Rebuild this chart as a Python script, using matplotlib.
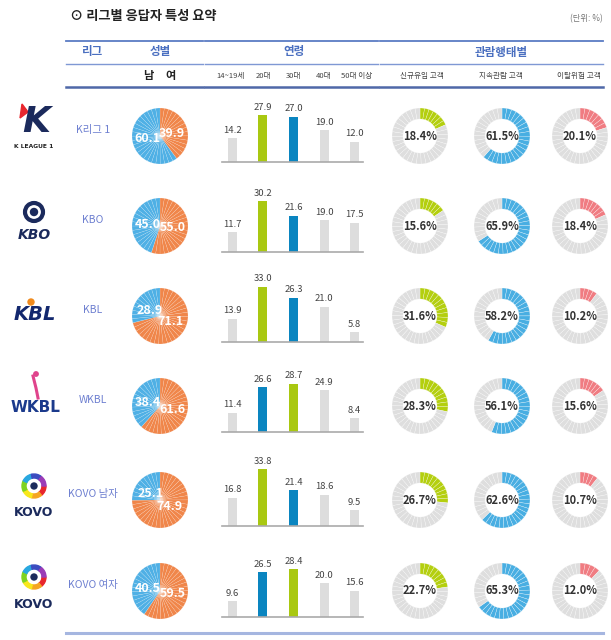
import matplotlib
matplotlib.use('Agg')
import matplotlib.pyplot as plt
import numpy as np
from matplotlib.patches import Circle, Wedge, Polygon

plt.rcParams['font.family'] = ['Noto Sans CJK KR', 'DejaVu Sans']
NUM_FONT = ['Liberation Sans Narrow', 'Noto Sans CJK KR', 'DejaVu Sans']

# --- data ---
leagues = ['K리그 1', 'KBO', 'KBL', 'WKBL', 'KOVO 남자', 'KOVO 여자']
male = [60.1, 45.0, 28.9, 38.4, 25.1, 40.5]
female = [39.9, 55.0, 71.1, 61.6, 74.9, 59.5]

age_labels = ['14~19세', '20대', '30대', '40대', '50대 이상']
age_14_19 = [14.2, 11.7, 13.9, 11.4, 16.8, 9.6]
age_20s = [27.9, 30.2, 33.0, 26.6, 33.8, 26.5]
age_30s = [27.0, 21.6, 26.3, 28.7, 21.4, 28.4]
age_40s = [19.0, 19.0, 21.0, 24.9, 18.6, 20.0]
age_50plus = [12.0, 17.5, 5.8, 8.4, 9.5, 15.6]

behavior_labels = ['신규유입 고객', '지속관람 고객', '이탈위험 고객']
new_fans = [18.4, 15.6, 31.6, 28.3, 26.7, 22.7]
regular_fans = [61.5, 65.9, 58.2, 56.1, 62.6, 65.3]
churn_risk = [20.1, 18.4, 10.2, 15.6, 10.7, 12.0]

# --- colours ---
C_MALE = '#4fb0e5'
C_FEMALE = '#f0864a'
C_TOP = '#a9c811'
C_SECOND = '#0a85c0'
C_BAR = '#dddddd'
C_RING = '#dedede'
RING_COLORS = ['#b4cf0f', '#48aee2', '#f07c82']
C_HEAD = '#4a6fc0'
C_NAVY = '#1b2a5c'

W, H = 611, 640
fig = plt.figure(figsize=(W / 100, H / 100), dpi=100)


def px_axes(x, y, w, h):
    return fig.add_axes([x / W, 1 - (y + h) / H, w / W, h / H])


def seg_pie(ax, values, colors, n_seg, radius, width=None, lw=0.5, ec='white'):
    sizes, cols = [], []
    for v, c in zip(values, colors):
        k = max(1, int(round(v / 100 * n_seg)))
        sizes += [v / k] * k
        cols += [c] * k
    wp = dict(edgecolor=ec, linewidth=lw)
    if width:
        wp['width'] = width
    ax.pie(sizes, colors=cols, startangle=90, counterclock=False,
           radius=radius, wedgeprops=wp)
    ax.set_xlim(-1, 1)
    ax.set_ylim(-1, 1)


# background axes in pixel coordinates for lines / header text
bg = fig.add_axes([0, 0, 1, 1])
bg.set_xlim(0, W)
bg.set_ylim(H, 0)
bg.axis('off')

bg.text(70, 16, '⊙ 리그별 응답자 특성 요약', fontsize=9.5, fontweight='bold',
        color='#222222', va='center', ha='left')
bg.text(603, 19, '(단위: %)', fontsize=6, color='#777777', va='center', ha='right')

# header lines
for x0, x1 in [(66, 203), (205, 378), (380, 603)]:
    bg.plot([x0, x1], [41, 41], color='#5b7cc4', lw=1.3)
    bg.plot([x0, x1], [64, 64], color='#7f98d4', lw=1.0)
    bg.plot([x0, x1], [87, 87], color='#4f68a8', lw=1.8)
bg.plot([66, 603], [633, 633], color='#a5b6e0', lw=2.2)

for x, s in [(93, '리그'), (160, '성별'), (294, '연령'), (501, '관람행태별')]:
    bg.text(x, 52, s, fontsize=8.3, color=C_HEAD, fontweight='bold', ha='center', va='center')
bg.text(148, 76, '남', fontsize=8, color='#222222', fontweight='bold', ha='center', va='center')
bg.text(171, 76, '여', fontsize=8, color='#222222', fontweight='bold', ha='center', va='center')
for x, s in zip([231, 263, 294, 324, 357], age_labels):
    bg.text(x, 76, s, fontsize=5.5, color='#444444', ha='center', va='center')
for x, s in zip([422, 501, 579], behavior_labels):
    bg.text(x, 76, s, fontsize=5.5, color='#444444', ha='center', va='center')

row_y = [136, 226, 316, 406, 500, 591]

# --- logos (approximate) ---
cy = row_y[0]
bg.add_patch(Polygon([[22, cy - 32], [28, cy - 24], [20, cy - 18]], color='#e8262d'))
bg.text(36, cy - 14, 'K', fontsize=26, fontweight='bold', fontstyle='italic',
        color=C_NAVY, ha='center', va='center', family='DejaVu Sans')
bg.text(34, cy + 10, 'K LEAGUE 1', fontsize=4.3, fontweight='bold', color='#222222',
        ha='center', va='center', family='DejaVu Sans')

cy = row_y[1]
bg.add_patch(Circle((34, cy - 14), 9, fill=False, ec=C_NAVY, lw=3))
bg.add_patch(Circle((34, cy - 14), 3.5, color=C_NAVY))
bg.text(34, cy + 9, 'KBO', fontsize=10, fontweight='bold', fontstyle='italic',
        color=C_NAVY, ha='center', va='center', family='DejaVu Sans')

cy = row_y[2]
bg.text(35, cy - 2, 'KBL', fontsize=14, fontweight='bold', fontstyle='italic',
        color='#13286e', ha='center', va='center', family='DejaVu Sans')
bg.add_patch(Circle((31, cy - 14), 3, color='#f08a1c'))

cy = row_y[3]
bg.plot([33, 36, 38], [cy - 30, cy - 18, cy - 8], color='#e0448c', lw=2.2)
bg.add_patch(Circle((36, cy - 32), 2.2, color='#e0448c'))
bg.text(35, cy + 1, 'WKBL', fontsize=11, fontweight='bold',
        color='#1b3a8c', ha='center', va='center', family='DejaVu Sans')

kovo_cols = ['#e8262d', '#f5a623', '#f8e71c', '#7ed321', '#29a8e0', '#3b4cc0', '#9b3cb7']
for cy in row_y[4:]:
    for i, c in enumerate(kovo_cols):
        bg.add_patch(Wedge((34, cy - 14), 12, i * 360 / 7, (i + 1) * 360 / 7,
                           width=4, color=c))
    bg.add_patch(Circle((34, cy - 14), 3, color=C_NAVY))
    bg.text(34, cy + 13, 'KOVO', fontsize=9, fontweight='bold',
            color=C_NAVY, ha='center', va='center', family='DejaVu Sans')

ages = [age_14_19, age_20s, age_30s, age_40s, age_50plus]
rings = [new_fans, regular_fans, churn_risk]

for r, cy in enumerate(row_y):
    # league name
    bg.text(93, cy - 6, leagues[r], fontsize=7.5, color='#6d7fd0',
            ha='center', va='center')

    # --- gender pie ---
    ax = px_axes(160 - 32, cy - 32, 64, 64)
    rad = 28 / 32
    seg_pie(ax, [female[r], male[r]], [C_FEMALE, C_MALE], 40, rad,
            lw=0.25, ec=(1, 1, 1, 0.35))
    ax.add_patch(Circle((0, 0), rad * 0.12, color='white', alpha=0.25, lw=0))
    mid_f = np.deg2rad(90 - female[r] * 1.8)
    mid_m = np.deg2rad(90 - female[r] * 3.6 - male[r] * 1.8)
    for v, a in [(female[r], mid_f), (male[r], mid_m)]:
        ax.text(rad * 0.46 * np.cos(a), rad * 0.33 * np.sin(a), f'{v:.1f}',
                fontsize=9, fontweight='bold', color='white',
                ha='center', va='center', family=NUM_FONT)

    # --- age bars ---
    base = cy + 26
    scale = 1.68
    ax = px_axes(217, base - 72, 153, 72)
    vals = [a[r] for a in ages]
    order = np.argsort(vals)[::-1]
    cols = [C_BAR] * 5
    cols[order[0]] = C_TOP
    cols[order[1]] = C_SECOND
    ax.bar(range(5), vals, width=0.29, color=cols)
    for i, v in enumerate(vals):
        ax.text(i, v + 2.0, f'{v:.1f}', fontsize=6.8, color='#444444',
                ha='center', va='bottom', family=NUM_FONT)
    ax.set_xlim(-0.5, 4.5)
    ax.set_ylim(0, 72 / scale)
    ax.axhline(0, xmin=5 / 153, xmax=146 / 153, color='#aaaaaa', lw=1.2, clip_on=False)
    ax.axis('off')

    # --- behaviour rings ---
    for j, cx in enumerate([420, 502, 580]):
        ax = px_axes(cx - 30, cy - 30, 60, 60)
        v = rings[j][r]
        seg_pie(ax, [v, 100 - v], [RING_COLORS[j], C_RING], 36, 28 / 30,
                width=11 / 30, lw=0.3, ec=(1, 1, 1, 0.6))
        ax.text(0, 0, f'{v:.1f}%', fontsize=8, fontweight='bold', color='#333333',
                ha='center', va='center', family=NUM_FONT)

fig.savefig('out.png', dpi=100)
